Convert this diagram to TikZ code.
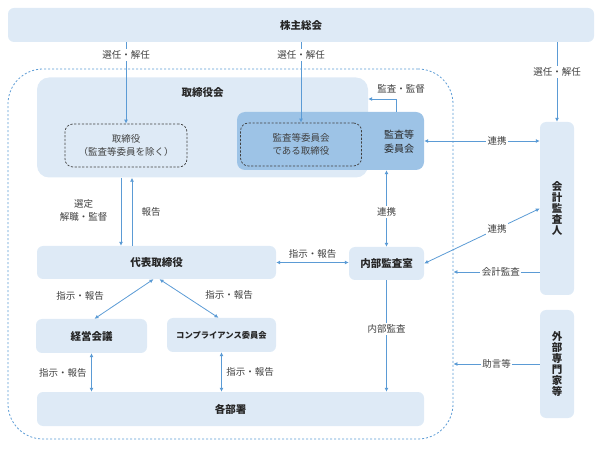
\documentclass[tikz,border=0pt]{standalone}
\usepackage{fontspec}
\setmainfont{Noto Sans CJK JP}
\usetikzlibrary{positioning,calc,arrows.meta}
\definecolor{boxblue}{RGB}{222,234,246}
\definecolor{auditblue}{RGB}{157,195,230}
\definecolor{lineblue}{RGB}{91,155,213}
\definecolor{textgray}{RGB}{64,64,64}

\begin{document}
\begin{tikzpicture}[x=1pt,y=-1pt,
    unit/.style={fill=boxblue, rounded corners=6pt, inner sep=0pt, align=center,
        font=\fontsize{10.5}{11}\selectfont\bfseries, text=black!85},
    member/.style={draw=black!75, line width=0.7pt, dash pattern=on 2.2pt off 1.6pt, rounded corners=8pt,
        inner sep=0pt, align=center, font=\fontsize{9.5}{13}\selectfont, text=textgray},
    lbl/.style={fill=white, inner sep=1.5pt, align=center,
        font=\fontsize{9.5}{13}\selectfont, text=textgray},
    link/.style={draw=lineblue, line width=0.8pt, -{Latex[length=4pt,width=4pt]}},
    both/.style={link, {Latex[length=4pt,width=4pt]}-{Latex[length=4pt,width=4pt]}}]
    \useasboundingbox (0,0) rectangle (603,449);

    % Shareholders and company boundary
    \node[unit, minimum width=586, minimum height=34] (meeting) at (301,25) {株主総会};
    \node[draw=lineblue, line width=0.8pt, dash pattern=on 2pt off 2pt, rounded corners=35pt,
        minimum width=445, minimum height=370] (company) at (230.5,254) {};

    % Board of directors
    \node[unit, rounded corners=12pt, minimum width=331, minimum height=100] (board) at (202.5,127.5) {};
    \node[font=\fontsize{10.5}{11}\selectfont\bfseries, text=black!85] (boardtitle)
        at ([yshift=-15pt]board.north) {取締役会};
    \node[unit, fill=auditblue, rounded corners=8pt, minimum width=187, minimum height=58] (audit) at (330.5,141) {};
    \node[font=\fontsize{10}{14}\selectfont, text=black!85, align=center] (audittitle)
        at (399,142) {監査等\\委員会};
    \node[member, minimum width=122, minimum height=43] (director) at (126,145.5) {取締役\\（監査等委員を除く）};
    \node[member, minimum width=121, minimum height=43] (auditdir) at (301,144.5) {監査等委員会\\である取締役};

    % Outside parties
    \node[unit, minimum width=34, minimum height=173] (auditor) at (557,208.5) {会\\計\\監\\査\\人};
    \node[unit, minimum width=34, minimum height=108] (expert) at (557,364) {外\\部\\専\\門\\家\\等};

    % Executive side
    \node[unit, minimum width=239, minimum height=33] (ceo) at (156.5,262.5) {代表取締役};
    \node[unit, minimum width=75, minimum height=33] (internal) at (386.5,263.5) {内部監査室};
    \node[unit, minimum width=111, minimum height=34] (mgmt) at (91.5,336) {経営会議};
    \node[unit, minimum width=109, minimum height=34, font=\fontsize{8.3}{10}\selectfont\bfseries] (compliance)
        at (221.5,335) {コンプライアンス委員会};
    \node[unit, minimum width=387, minimum height=34] (depts) at (230.5,409) {各部署};

    % Election arrows
    \draw[link] (meeting.south -| director.north) -- node[lbl, pos=0.16] {選任・解任} (director.north);
    \draw[link] (meeting.south -| auditdir.north) -- node[lbl, pos=0.16] {選任・解任} (auditdir.north);
    \draw[link] (meeting.south -| auditor.north) -- node[lbl, pos=0.375] {選任・解任} (auditor.north);

    % Audit committee
    \coordinate (turn) at (396,99);
    \draw[link] (turn |- audit.north) -- (turn) -- (turn -| board.east);
    \node[lbl] (supervise) at (401,89) {監査・監督};
    \draw[both] (audit.east) -- node[lbl, pos=0.63] {連携} (audit.east -| auditor.west);
    \draw[both] (internal.north |- audit.south) -- node[lbl, pos=0.55] {連携} (internal.north);

    % Board and representative director
    \draw[link] (121,0 |- board.south) -- (121,0 |- ceo.north);
    \draw[link] (132,0 |- ceo.north) -- (132,0 |- board.south);
    \node[lbl, anchor=east] (appoint) at (109,210) {選定\\解職・監督};
    \node[lbl] (report) at (151,212) {報告};
    \draw[both] (ceo.east) -- node[lbl, above=2pt] {指示・報告} (ceo.east -| internal.west);

    % Accounting auditor and experts
    \draw[both] (internal.east) -- node[lbl, pos=0.63] {連携} (auditor.west);
    \draw[link] (auditor.west |- 0,272) -- node[lbl, pos=0.45] {会計監査} (company.east |- 0,272);
    \draw[link] (expert.west) -- node[lbl, pos=0.5] {助言等} (expert.west -| company.east);

    % Lower organisation
    \draw[both] ([xshift=-3pt]ceo.south) -- ([xshift=3pt]mgmt.north);
    \draw[both] ([xshift=3pt]ceo.south) -- ([xshift=-3pt]compliance.north);
    \node[lbl] (mgmtnote) at (80,296) {指示・報告};
    \node[lbl] (compnote) at (229,295) {指示・報告};
    \draw[both] (mgmt.south) -- node[lbl, left=3pt] {指示・報告} (mgmt.south |- depts.north);
    \draw[both] (compliance.south) -- node[lbl, right=3pt] {指示・報告} (compliance.south |- depts.north);
    \draw[link] (internal.south) -- node[lbl, pos=0.44] {内部監査} (internal.south |- depts.north);
\end{tikzpicture}
\end{document}
